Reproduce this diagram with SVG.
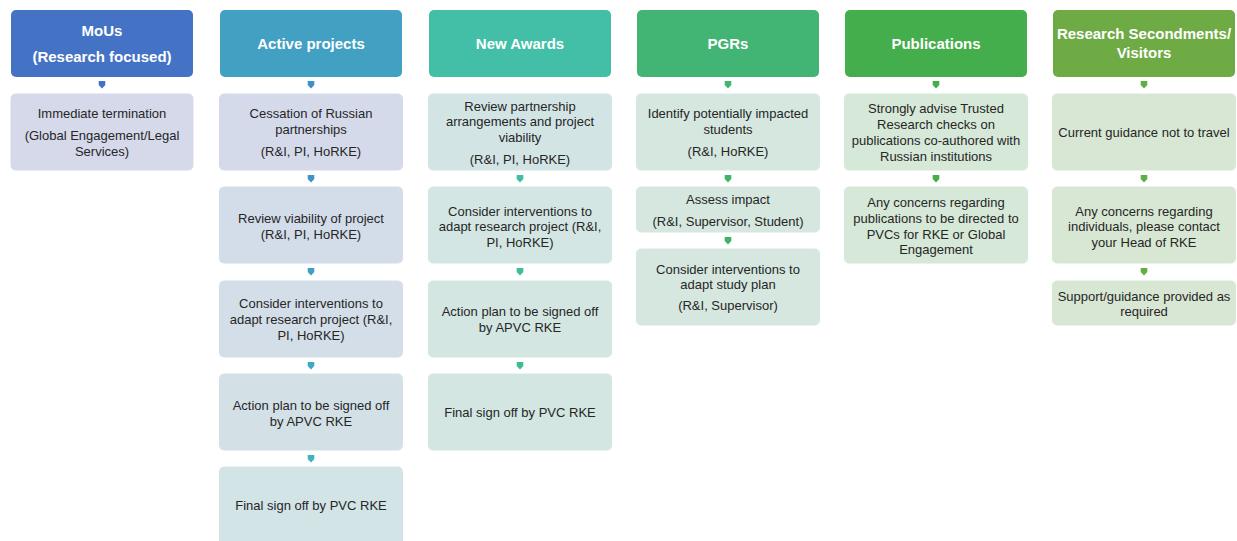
<svg xmlns="http://www.w3.org/2000/svg" width="1237" height="541" viewBox="0 0 1237 541">
<style>
.hd{stroke:none}
.ht{font-family:"Liberation Sans",Arial,sans-serif;font-size:15px;font-weight:bold;fill:#ffffff;text-anchor:middle}
.bx{stroke:#ffffff;stroke-width:1}
.bt{font-family:"Liberation Sans",Arial,sans-serif;font-size:13px;fill:#262626;text-anchor:middle}
</style>
<defs>
<path id="arr" d="M-3.3,0 H3.3 V4 L0,7.5 L-3.3,4 Z"/>
</defs>
<rect width="1237" height="541" fill="#ffffff"/>

<g id="mous">
<rect class="hd" x="11" y="10" width="182" height="67" rx="5" fill="#4472C4"/>
<text class="ht" x="102" y="35.5">MoUs</text>
<text class="ht" x="102" y="61.5">(Research focused)</text>
</g>
<g id="mous-1">
<rect class="bx" x="10" y="93" width="184" height="78" rx="6" fill="#D5D9EA"/>
<text class="bt" x="102" y="117.5">Immediate termination</text>
<text class="bt" x="102" y="139.5">(Global Engagement/Legal</text>
<text class="bt" x="102" y="155.5">Services)</text>
</g>

<g id="active">
<rect class="hd" x="220" y="10" width="182" height="67" rx="5" fill="#42A0C2"/>
<text class="ht" x="311" y="48.5">Active projects</text>
</g>
<g id="active-1">
<rect class="bx" x="218.5" y="93" width="185" height="78" rx="6" fill="#D5DAEA"/>
<text class="bt" x="311" y="117.5">Cessation of Russian</text>
<text class="bt" x="311" y="133.5">partnerships</text>
<text class="bt" x="311" y="155.5">(R&amp;I, PI, HoRKE)</text>
</g>
<g id="active-2">
<rect class="bx" x="218.5" y="186" width="185" height="78" rx="6" fill="#D3DCE9"/>
<text class="bt" x="311" y="222.5">Review viability of project</text>
<text class="bt" x="311" y="238.5">(R&amp;I, PI, HoRKE)</text>
</g>
<g id="active-3">
<rect class="bx" x="218.5" y="280" width="185" height="78" rx="6" fill="#D3DEE8"/>
<text class="bt" x="311" y="307.5">Consider interventions to</text>
<text class="bt" x="311" y="323.5">adapt research project (R&amp;I,</text>
<text class="bt" x="311" y="339.5">PI, HoRKE)</text>
</g>
<g id="active-4">
<rect class="bx" x="218.5" y="373" width="185" height="78" rx="6" fill="#D3E1E7"/>
<text class="bt" x="311" y="409.5">Action plan to be signed off</text>
<text class="bt" x="311" y="425.5">by APVC RKE</text>
</g>
<g id="active-5">
<rect class="bx" x="218.5" y="466" width="185" height="85" rx="6" fill="#D3E4E6"/>
<text class="bt" x="311" y="509.5">Final sign off by PVC RKE</text>
</g>

<g id="awards">
<rect class="hd" x="429" y="10" width="182" height="67" rx="5" fill="#42BFA6"/>
<text class="ht" x="520" y="48.5">New Awards</text>
</g>
<g id="awards-1">
<rect class="bx" x="427.5" y="93" width="185" height="78" rx="6" fill="#D3E4E5"/>
<text class="bt" x="520" y="110.5">Review partnership</text>
<text class="bt" x="520" y="125.5">arrangements and project</text>
<text class="bt" x="520" y="141.5">viability</text>
<text class="bt" x="520" y="163.5">(R&amp;I, PI, HoRKE)</text>
</g>
<g id="awards-2">
<rect class="bx" x="427.5" y="186" width="185" height="78" rx="6" fill="#D3E6E3"/>
<text class="bt" x="520" y="215.5">Consider interventions to</text>
<text class="bt" x="520" y="230.5">adapt research project  (R&amp;I,</text>
<text class="bt" x="520" y="246.5">PI, HoRKE)</text>
</g>
<g id="awards-3">
<rect class="bx" x="427.5" y="280" width="185" height="78" rx="6" fill="#D3E6E2"/>
<text class="bt" x="520" y="315.5">Action plan to be signed off</text>
<text class="bt" x="520" y="331.5">by APVC RKE</text>
</g>
<g id="awards-4">
<rect class="bx" x="427.5" y="373" width="185" height="78" rx="6" fill="#D3E6E1"/>
<text class="bt" x="520" y="416.5">Final sign off by PVC RKE</text>
</g>

<g id="pgrs">
<rect class="hd" x="637" y="10" width="182" height="67" rx="5" fill="#42B474"/>
<text class="ht" x="728" y="48.5">PGRs</text>
</g>
<g id="pgrs-1">
<rect class="bx" x="635.5" y="93" width="185" height="78" rx="6" fill="#D5E7DE"/>
<text class="bt" x="728" y="117.5">Identify potentially impacted</text>
<text class="bt" x="728" y="133.5">students</text>
<text class="bt" x="728" y="155.5">(R&amp;I, HoRKE)</text>
</g>
<g id="pgrs-2">
<rect class="bx" x="635.5" y="186" width="185" height="47" rx="6" fill="#D5E7DE"/>
<text class="bt" x="728" y="203.5">Assess impact</text>
<text class="bt" x="728" y="225.5">(R&amp;I, Supervisor, Student)</text>
</g>
<g id="pgrs-3">
<rect class="bx" x="635.5" y="248" width="185" height="78" rx="6" fill="#D5E7DE"/>
<text class="bt" x="728" y="273.5">Consider interventions to</text>
<text class="bt" x="728" y="288.5">adapt study plan</text>
<text class="bt" x="728" y="309.5">(R&amp;I, Supervisor)</text>
</g>

<g id="publications">
<rect class="hd" x="845" y="10" width="182" height="67" rx="5" fill="#44AE4C"/>
<text class="ht" x="936" y="48.5">Publications</text>
</g>
<g id="publications-1">
<rect class="bx" x="843.5" y="93" width="185" height="78" rx="6" fill="#D6E8D7"/>
<text class="bt" x="936" y="112.5">Strongly advise Trusted</text>
<text class="bt" x="936" y="128.5">Research checks on</text>
<text class="bt" x="936" y="144.5">publications co-authored with</text>
<text class="bt" x="936" y="160.5">Russian institutions</text>
</g>
<g id="publications-2">
<rect class="bx" x="843.5" y="186" width="185" height="78" rx="6" fill="#D6E8D7"/>
<text class="bt" x="936" y="206.5">Any concerns regarding</text>
<text class="bt" x="936" y="222.5">publications to be directed to</text>
<text class="bt" x="936" y="238.5">PVCs for RKE or Global</text>
<text class="bt" x="936" y="253.5">Engagement</text>
</g>

<g id="secondments">
<rect class="hd" x="1053" y="10" width="182" height="67" rx="5" fill="#6FAB45"/>
<text class="ht" x="1144" y="38.5">Research Secondments/</text>
<text class="ht" x="1144" y="57.5">Visitors</text>
</g>
<g id="secondments-1">
<rect class="bx" x="1051.5" y="93" width="185" height="78" rx="6" fill="#D8E7D3"/>
<text class="bt" x="1144" y="136.5">Current guidance not to travel</text>
</g>
<g id="secondments-2">
<rect class="bx" x="1051.5" y="186" width="185" height="78" rx="6" fill="#D8E7D3"/>
<text class="bt" x="1144" y="215.5">Any concerns regarding</text>
<text class="bt" x="1144" y="230.5">individuals, please contact</text>
<text class="bt" x="1144" y="246.5">your Head of RKE</text>
</g>
<g id="secondments-3">
<rect class="bx" x="1051.5" y="280" width="185" height="46" rx="6" fill="#D8E7D3"/>
<text class="bt" x="1144" y="300.5">Support/guidance provided as</text>
<text class="bt" x="1144" y="315.5">required</text>
</g>

<g id="connectors">
<use href="#arr" x="102" y="81" fill="#4472C4"/>
<use href="#arr" x="311" y="81" fill="#3F8FCB"/>
<use href="#arr" x="311" y="175" fill="#4192C8"/>
<use href="#arr" x="311" y="268" fill="#3FA0C6"/>
<use href="#arr" x="311" y="362" fill="#40A8C3"/>
<use href="#arr" x="311" y="455" fill="#42B2C0"/>
<use href="#arr" x="520" y="175" fill="#3EBFA0"/>
<use href="#arr" x="520" y="268" fill="#3EBE98"/>
<use href="#arr" x="520" y="362" fill="#3EBC90"/>
<use href="#arr" x="728" y="81" fill="#42B56E"/>
<use href="#arr" x="728" y="175" fill="#42B469"/>
<use href="#arr" x="728" y="237" fill="#42B264"/>
<use href="#arr" x="936" y="81" fill="#44AE4C"/>
<use href="#arr" x="936" y="175" fill="#45AD48"/>
<use href="#arr" x="1144" y="81" fill="#5DAE44"/>
<use href="#arr" x="1144" y="175" fill="#5CB046"/>
<use href="#arr" x="1144" y="268" fill="#62AE44"/>
</g>
</svg>
